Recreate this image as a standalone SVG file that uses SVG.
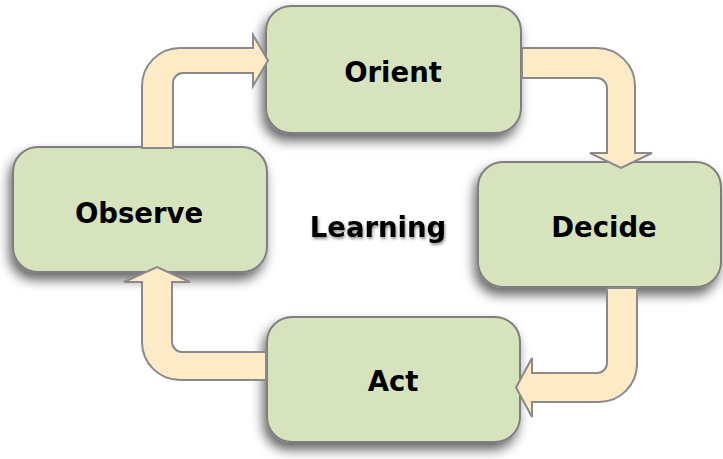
<svg xmlns="http://www.w3.org/2000/svg" width="723" height="459" viewBox="0 0 723 459">
  <defs>
    <filter id="shadow" x="-20%" y="-20%" width="140%" height="150%">
      <feDropShadow dx="-3" dy="7" stdDeviation="6" flood-color="#000" flood-opacity="0.6"/>
    </filter>
    <filter id="tshadow" x="-10%" y="-30%" width="120%" height="160%">
      <feDropShadow dx="1" dy="2" stdDeviation="1.5" flood-color="#000" flood-opacity="0.45"/>
    </filter>
  </defs>
  <style>
    .box { fill: #d7e3bc; stroke: #7f7f7f; stroke-width: 2; }
    .arrow { fill: #fdebc7; stroke: #8a8a8a; stroke-width: 2; stroke-linejoin: miter; }
    .label { font-family: "DejaVu Sans", Verdana, sans-serif; font-weight: bold; font-size: 27.5px; fill: #000; text-anchor: middle; }
  </style>
  <rect width="723" height="459" fill="#fff"/>

  <g id="node-observe" filter="url(#shadow)">
    <rect class="box" x="13" y="147" width="254" height="125" rx="25" ry="25"/>
  </g>
  <g id="node-orient" filter="url(#shadow)">
    <rect class="box" x="266" y="6" width="255" height="127" rx="25" ry="25"/>
  </g>
  <g id="node-decide" filter="url(#shadow)">
    <rect class="box" x="478" y="162" width="243" height="125" rx="25" ry="25"/>
  </g>
  <g id="node-act" filter="url(#shadow)">
    <rect class="box" x="267" y="317" width="253" height="125" rx="25" ry="25"/>
  </g>

  <g id="connectors">
    <path class="arrow" d="M142,148 L142,86 A38,38 0 0 1 180,48 L253,48 L253,35 L268,60.5 L253,86 L253,73 L183,73 A10,10 0 0 0 173,83 L173,148 Z"/>
    <path class="arrow" d="M522,48 L597,48 A38,38 0 0 1 635,86 L635,153 L652,153 L621,168 L590,153 L607,153 L607,88 A10,10 0 0 0 597,78 L522,78 Z"/>
    <path class="arrow" d="M607,288 L637,288 L637,364 A38,38 0 0 1 599,402 L532,402 L532,417 L516,387.5 L532,358 L532,373 L597,373 A10,10 0 0 0 607,363 Z"/>
    <path class="arrow" d="M266,352 L182,352 A10,10 0 0 1 172,342 L172,282 L190,282 L157,267 L124,282 L142,282 L142,342 A38,38 0 0 0 180,380 L266,380 Z"/>
  </g>

  <g id="labels">
    <text class="label" x="139" y="223">Observe</text>
    <text class="label" x="393" y="82">Orient</text>
    <text class="label" x="604" y="237">Decide</text>
    <text class="label" x="393" y="391">Act</text>
  </g>
  <g id="center-label" filter="url(#tshadow)">
    <text class="label" x="378" y="237">Learning</text>
  </g>
</svg>
